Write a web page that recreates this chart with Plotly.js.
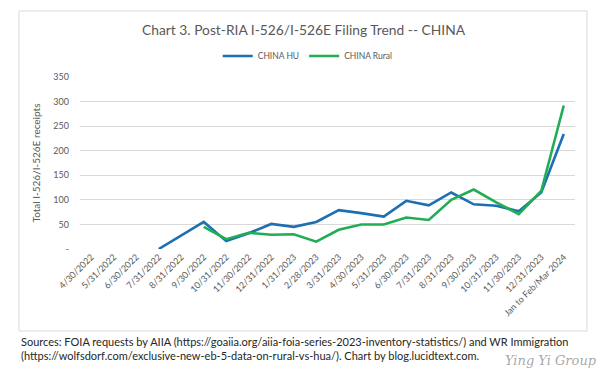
<!DOCTYPE html>
<html>
<head>
<meta charset="utf-8">
<script src="https://cdn.plot.ly/plotly-3.0.1.min.js"></script>
<style>html,body{margin:0;padding:0;background:#fff;}#chart{width:600px;height:380px;}</style>
</head>
<body>
<div id="chart"></div>
<script>
const categories = ["4/30/2022","5/31/2022","6/30/2022","7/31/2022","8/31/2022","9/30/2022","10/31/2022","11/30/2022","12/31/2022","1/31/2023","2/28/2023","3/31/2023","4/30/2023","5/31/2023","6/30/2023","7/31/2023","8/31/2023","9/30/2023","10/31/2023","11/30/2023","12/31/2023","Jan to Feb/Mar 2024"];
const chinaHU = [null,null,null,0,27,55,16,32,51,45,55,79,73,66,98,89,115,91,88,77,115,234];
const chinaRural = [null,null,null,null,null,45,20,33,29,30,15,39,50,50,64,59,100,121,95,71,118,292];
const yTickVals = [0,50,100,150,200,250,300,350];
const yTickText = ["-","50","100","150","200","250","300","350"];

const FONT = "Lato, 'Open Sans', sans-serif";
const GRAY = "#595959";

const traces = [
  {x: categories, y: chinaHU, name: "CHINA HU", type: "scatter", mode: "lines",
   line: {color: "#1c6fb3", width: 2.6}, connectgaps: false},
  {x: categories, y: chinaRural, name: "CHINA Rural", type: "scatter", mode: "lines",
   line: {color: "#21ad55", width: 2.6}, connectgaps: false}
];

const layout = {
  width: 600, height: 380,
  margin: {l: 80, r: 25, t: 77, b: 131},
  paper_bgcolor: "#ffffff", plot_bgcolor: "#ffffff",
  font: {family: FONT, color: GRAY, size: 9},
  title: {text: "Chart 3. Post-RIA I-526/I-526E Filing Trend -- CHINA",
          font: {family: FONT, size: 13.8, color: GRAY},
          x: 0.506, xanchor: "center", xref: "container",
          y: 1 - 30/380, yanchor: "middle", yref: "container"},
  showlegend: true,
  legend: {orientation: "h", x: 0.46, xanchor: "center", y: 1.122, yanchor: "middle",
           font: {family: FONT, size: 8.5, color: GRAY}, itemwidth: 30, tracegroupgap: 0,
           bgcolor: "rgba(0,0,0,0)"},
  xaxis: {type: "category", tickangle: -45, showgrid: false, zeroline: false,
          showline: false, ticks: "", tickfont: {family: FONT, size: 9, color: "#595959"},
          range: [-0.5, 21.5], fixedrange: true},
  yaxis: {range: [0, 350], tickvals: yTickVals, ticktext: yTickText,
          showgrid: true, gridcolor: "#d9d9d9", gridwidth: 1, zeroline: false,
          showline: false, ticks: "", ticklabelstandoff: 10,
          tickfont: {family: FONT, size: 9, color: GRAY},
          title: {text: "Total I-526/I-526E receipts", font: {family: FONT, size: 10, color: GRAY}, standoff: 10}},
  shapes: [
    {type: "rect", xref: "paper", yref: "paper",
     x0: (19-80)/495, x1: (587-80)/495, y0: (249-331)/172, y1: (249-11)/172,
     line: {color: "#d9d9d9", width: 1}, fillcolor: "rgba(0,0,0,0)", layer: "below"}
  ],
  annotations: [
    {xref: "paper", yref: "paper", x: (19-80)/495, y: (249-333)/172, xanchor: "left", yanchor: "top",
     align: "left", showarrow: false,
     text: "Sources: FOIA requests by AIIA (https://goaiia.org/aiia-foia-series-2023-inventory-statistics/) and WR Immigration<br>(https://wolfsdorf.com/exclusive-new-eb-5-data-on-rural-vs-hua/). Chart by blog.lucidtext.com.",
     font: {family: FONT, size: 11, color: "#262626"}},
    {xref: "paper", yref: "paper", x: (599-80)/495, y: (249-360)/172, xanchor: "right", yanchor: "middle",
     showarrow: false, text: "<i>Ying Yi Group</i>",
     font: {family: "'DejaVu Serif', serif", size: 13, color: "rgba(90,90,90,0.55)"}}
  ]
};

Plotly.newPlot("chart", traces, layout, {staticPlot: true, displayModeBar: false});
</script>
</body>
</html>
